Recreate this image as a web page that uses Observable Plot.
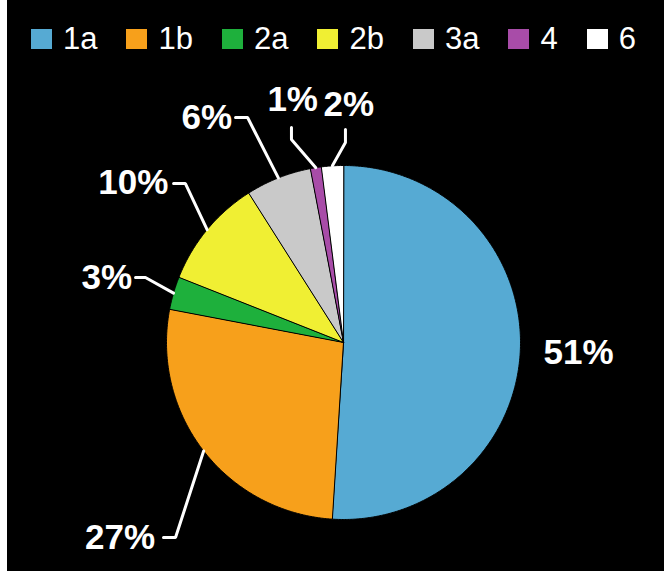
<!DOCTYPE html>
<html>
<head>
<meta charset="utf-8">
<script src="https://cdn.jsdelivr.net/npm/d3@7"></script>
<script src="https://cdn.jsdelivr.net/npm/@observablehq/plot@0.6"></script>
<style>
  html, body { margin: 0; padding: 0; background: #ffffff; width: 664px; height: 573px; overflow: hidden; }
  #frame { position: absolute; left: 7px; top: 0; width: 657px; height: 571px; background: #000; }
  #legend { position: absolute; left: 24px; top: 23px; display: flex; align-items: center;
            font-family: "Liberation Sans", Arial, sans-serif; font-size: 31px; color: #fff; line-height: 32px; }
  #legend .item { display: flex; align-items: center; margin-right: 29px; }
  #legend .sw { width: 21px; height: 20px; margin-right: 11px; }
  #chart { position: absolute; left: 0; top: 0; }
</style>
</head>
<body>
<div id="frame">
  <div id="chart"></div>
  <div id="legend"></div>
</div>
<script>
// ---- data ----
const categories = ["1a", "1b", "2a", "2b", "3a", "4", "6"];
const shares = [51, 27, 3, 10, 6, 1, 2];
const labels = ["51%", "27%", "3%", "10%", "6%", "1%", "2%"];
const colors = ["#56aad3", "#f7a01b", "#1eb03c", "#f0ef33", "#c9c9c9", "#a84ca8", "#ffffff"];

// ---- label layout (in pie-radius units, y up) ----
const labelPos = [
  [1.13, -0.056], [-1.46, -1.102], [-1.48, 0.367], [-1.385, 0.904], [-0.915, 1.271], [-0.43, 1.372], [-0.113, 1.345]
];
const leaderElbows = [
  null,
  [[-1.017, -1.102], [-0.949, -1.102]],
  [[-1.175, 0.367], [-1.119, 0.367]],
  [[-0.96, 0.898], [-0.893, 0.898]],
  [[-0.61, 1.271], [-0.542, 1.271]],
  [[-0.294, 1.215], [-0.294, 1.147]],
  [[0.011, 1.203], [0.011, 1.13]]
];

// ---- geometry from data ----
const total = d3.sum(shares);
const slices = [];
const leaders = [];
let acc = 0;
categories.forEach((c, i) => {
  const a0 = acc / total * 2 * Math.PI;
  acc += shares[i];
  const a1 = acc / total * 2 * Math.PI;
  const n = Math.max(2, Math.ceil((a1 - a0) / (Math.PI / 360)));
  slices.push({cat: c, x: 0, y: 0});
  for (let k = 0; k <= n; k++) {
    const a = a0 + (a1 - a0) * k / n;
    slices.push({cat: c, x: Math.sin(a), y: Math.cos(a)});
  }
  const am = (a0 + a1) / 2;
  if (leaderElbows[i]) {
    leaderElbows[i].forEach(p => leaders.push({cat: c, x: p[0], y: p[1]}));
    leaders.push({cat: c, x: Math.sin(am), y: Math.cos(am)});
  }
});
const labelData = categories.map((c, i) => ({cat: c, text: labels[i], x: labelPos[i][0], y: labelPos[i][1]}));

const cx = 336, cy = 342, r = 177;
const chart = Plot.plot({
  width: 657,
  height: 571,
  style: {background: "transparent"},
  x: {domain: [-1, 1], range: [cx - r, cx + r], axis: null},
  y: {domain: [-1, 1], range: [cy + r, cy - r], axis: null},
  color: {domain: categories, range: colors},
  marks: [
    Plot.line(slices, {x: "x", y: "y", z: "cat", fill: "cat", stroke: "#000", strokeWidth: 1, curve: "linear-closed"}),
    Plot.line(leaders, {x: "x", y: "y", z: "cat", stroke: "#fff", strokeWidth: 3, strokeLinejoin: "miter"}),
    Plot.text(labelData, {x: "x", y: "y", text: "text", fill: "#fff", textAnchor: "start",
      fontSize: 35, fontWeight: "bold", fontFamily: "Liberation Sans, Arial, sans-serif", letterSpacing: 0.5})
  ]
});
document.getElementById("chart").appendChild(chart);

const legend = document.getElementById("legend");
categories.forEach((c, i) => {
  const item = document.createElement("div");
  item.className = "item";
  const sw = document.createElement("div");
  sw.className = "sw";
  sw.style.background = colors[i];
  const t = document.createElement("span");
  t.textContent = c;
  item.appendChild(sw);
  item.appendChild(t);
  legend.appendChild(item);
});
</script>
</body>
</html>
